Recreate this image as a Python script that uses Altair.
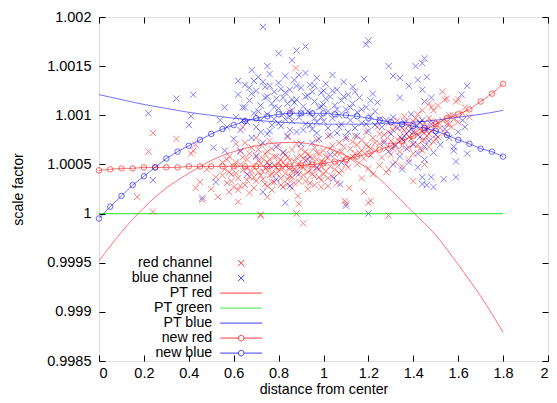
import altair as alt
import pandas as pd

FONT = "Liberation Sans"
SERIES = ["red channel", "blue channel", "PT red", "PT green", "PT blue", "new red", "new blue"]
SERIES_COLORS = ["#ff0000", "#0000ff", "#ff0000", "#00e000", "#0000ff", "#ff0000", "#0000ff"]
CROSS = "M-0.9,-0.9L0.9,0.9M-0.9,0.9L0.9,-0.9"
# legend samples: drawn to the right of the (right-aligned) legend labels
L_CROSS = "M9.4,-0.9L11.2,0.9M9.4,0.9L11.2,-0.9"
L_LINE = "M4.3,0L16.3,0"
L_LINE_CIRCLE = "M4.3,0L9.5,0M11.1,0L16.3,0M11.1,0A0.8,0.8 0 1 1 9.5,0A0.8,0.8 0 1 1 11.1,0"
LEGEND_SHAPES = [L_CROSS, L_CROSS, L_LINE, L_LINE, L_LINE, L_LINE_CIRCLE, L_LINE_CIRCLE]

X_TICKS = [0, 0.2, 0.4, 0.6, 0.8, 1.0, 1.2, 1.4, 1.6, 1.8, 2.0]
Y_TICKS = [0.9985, 0.999, 0.9995, 1.0, 1.0005, 1.001, 1.0015, 1.002]

W, H = 449, 344

# ---- red channel measurements (distance, scale factor)
red_sparse = [
    (0.24, 1.00082), (0.345, 1.00076), (0.22, 1.00063), (0.17, 1.00017), (0.24, 1.00002),
    (0.43, 1.00070), (0.42, 1.00064), (0.41, 1.00061), (0.45, 1.00032), (0.43, 1.00026),
    (0.46, 1.00014), (0.53, 1.00017), (0.55, 1.00039), (0.52, 1.00037), (0.72, 0.99998),
    (0.88, 1.00000), (0.91, 0.99990), (0.89, 1.00010), (1.10, 1.00010), (1.095, 1.00013),
    (1.20, 1.00011), (1.21, 1.00013), (1.29, 0.99998), (1.18, 1.00022), (1.115, 1.00026),
    (1.02, 1.00028), (1.40, 1.00033), (1.29, 1.00045), (1.17, 1.00036), (0.64, 1.00088),
    (0.61, 1.00071), (0.50, 1.00025), (0.48, 1.00045), (0.58, 1.00022), (0.62, 1.00012),
    (0.75, 1.00017), (0.82, 1.00027), (0.885, 1.00018), (0.72, 0.99999), (0.876, 1.00148),
    (0.85, 1.00104),
]
red_core = [
    (0.56, 1.00045), (0.57, 1.00031), (0.58, 1.00058), (0.59, 1.00040), (0.60, 1.00027),
    (0.61, 1.00052), (0.62, 1.00036), (0.63, 1.00063), (0.64, 1.00044), (0.65, 1.00029),
    (0.66, 1.00055), (0.67, 1.00038), (0.68, 1.00067), (0.69, 1.00048), (0.70, 1.00033),
    (0.70, 1.00059), (0.71, 1.00042), (0.72, 1.00070), (0.72, 1.00051), (0.73, 1.00035),
    (0.74, 1.00061), (0.74, 1.00046), (0.75, 1.00028), (0.76, 1.00055), (0.76, 1.00039),
    (0.77, 1.00066), (0.78, 1.00049), (0.78, 1.00032), (0.79, 1.00058), (0.80, 1.00043),
    (0.80, 1.00069), (0.81, 1.00036), (0.82, 1.00052), (0.82, 1.00062), (0.83, 1.00041),
    (0.84, 1.00030), (0.84, 1.00057), (0.85, 1.00047), (0.86, 1.00065), (0.86, 1.00037),
    (0.87, 1.00053), (0.88, 1.00044), (0.88, 1.00071), (0.89, 1.00033), (0.90, 1.00059),
    (0.90, 1.00048), (0.91, 1.00039), (0.92, 1.00063), (0.92, 1.00054), (0.93, 1.00042),
    (0.94, 1.00031), (0.94, 1.00058), (0.95, 1.00049), (0.96, 1.00067), (0.96, 1.00038),
    (0.97, 1.00055), (0.98, 1.00045), (0.98, 1.00061), (0.99, 1.00034), (1.00, 1.00052),
    (1.00, 1.00064), (1.01, 1.00043), (1.02, 1.00057), (1.03, 1.00048), (1.04, 1.00069),
    (1.04, 1.00038), (1.05, 1.00060), (1.06, 1.00051), (1.07, 1.00072), (1.08, 1.00044),
    (1.08, 1.00063), (1.09, 1.00055), (1.10, 1.00076), (1.11, 1.00047), (1.12, 1.00066),
    (1.13, 1.00058), (1.14, 1.00079), (1.15, 1.00050), (1.15, 1.00070),
    (0.73, 1.00043), (0.75, 1.00052), (0.77, 1.00040), (0.79, 1.00047), (0.81, 1.00055),
    (0.83, 1.00049), (0.85, 1.00038), (0.87, 1.00045), (0.89, 1.00051), (0.91, 1.00056),
    (0.93, 1.00049), (0.95, 1.00040), (0.97, 1.00046), (0.99, 1.00053), (0.71, 1.00054),
    (0.69, 1.00037), (0.66, 1.00046), (0.63, 1.00050), (0.60, 1.00048), (0.58, 1.00042),
    (0.55, 1.00052), (0.62, 1.00024), (0.67, 1.00021), (0.77, 1.00024), (0.86, 1.00026),
    (0.93, 1.00025), (0.99, 1.00027), (1.06, 1.00031), (0.65, 1.00072), (0.70, 1.00077),
    (0.76, 1.00074), (0.84, 1.00078), (0.97, 1.00075), (1.02, 1.00079),
]
red_core_2 = [
    (0.57, 1.00055), (0.59, 1.00033), (0.61, 1.00041), (0.63, 1.00028), (0.64, 1.00057),
    (0.66, 1.00034), (0.67, 1.00061), (0.68, 1.00043), (0.69, 1.00026), (0.71, 1.00065),
    (0.72, 1.00039), (0.73, 1.00056), (0.74, 1.00030), (0.75, 1.00063), (0.76, 1.00045),
    (0.77, 1.00032), (0.78, 1.00058), (0.79, 1.00041), (0.80, 1.00052), (0.81, 1.00029),
    (0.82, 1.00046), (0.83, 1.00060), (0.84, 1.00035), (0.85, 1.00054), (0.86, 1.00043),
    (0.87, 1.00031), (0.88, 1.00057), (0.89, 1.00040), (0.90, 1.00066), (0.91, 1.00047),
    (0.92, 1.00033), (0.93, 1.00060), (0.94, 1.00044), (0.95, 1.00056), (0.96, 1.00029),
    (0.97, 1.00062), (0.98, 1.00037), (0.99, 1.00048), (1.00, 1.00040), (1.01, 1.00058),
    (1.02, 1.00036), (1.03, 1.00066), (1.05, 1.00045), (1.06, 1.00062), (1.07, 1.00041),
    (1.09, 1.00068), (1.10, 1.00050), (1.12, 1.00056), (1.13, 1.00073), (1.14, 1.00061),
]
red_right = [
    (1.16, 1.00062), (1.17, 1.00075), (1.18, 1.00056), (1.19, 1.00083), (1.20, 1.00068),
    (1.21, 1.00059), (1.22, 1.00077), (1.23, 1.00064), (1.24, 1.00088), (1.25, 1.00071),
    (1.26, 1.00057), (1.27, 1.00080), (1.28, 1.00066), (1.29, 1.00092), (1.30, 1.00074),
    (1.30, 1.00060), (1.31, 1.00085), (1.32, 1.00070), (1.33, 1.00095), (1.34, 1.00078),
    (1.34, 1.00063), (1.35, 1.00087), (1.36, 1.00073), (1.36, 1.00099), (1.37, 1.00081),
    (1.38, 1.00067), (1.38, 1.00090), (1.39, 1.00076), (1.40, 1.00061), (1.40, 1.00094),
    (1.41, 1.00083), (1.42, 1.00070), (1.42, 1.00101), (1.43, 1.00086), (1.44, 1.00074),
    (1.44, 1.00064), (1.45, 1.00092), (1.46, 1.00079), (1.47, 1.00068), (1.47, 1.00097),
    (1.48, 1.00084), (1.49, 1.00073), (1.50, 1.00090), (1.51, 1.00078), (1.52, 1.00087),
    (1.53, 1.00095), (1.54, 1.00082), (1.55, 1.00091), (1.56, 1.00100), (1.57, 1.00088),
    (1.58, 1.00096), (1.60, 1.00093), (1.62, 1.00102), (1.65, 1.00098),
    (1.53, 1.00124), (1.55, 1.00117), (1.51, 1.00110), (1.60, 1.00116), (1.59, 1.00114),
    (1.63, 1.00108), (1.56, 1.00091), (1.54, 1.00116), (1.47, 1.00112), (1.49, 1.00105),
    (1.44, 1.00105), (1.575, 1.00100), (1.48, 1.00108),
    (1.20, 1.00046), (1.25, 1.00049), (1.32, 1.00052), (1.38, 1.00055), (1.45, 1.00050),
    (1.22, 1.00040), (1.28, 1.00042), (1.35, 1.00048),
]
red_right_2 = [
    (1.27, 1.00074), (1.29, 1.00083), (1.31, 1.00066), (1.32, 1.00088), (1.33, 1.00075),
    (1.35, 1.00069), (1.36, 1.00085), (1.37, 1.00094), (1.38, 1.00078), (1.39, 1.00086),
    (1.40, 1.00070), (1.41, 1.00097), (1.42, 1.00080), (1.43, 1.00066), (1.43, 1.00093),
    (1.44, 1.00083), (1.45, 1.00075), (1.46, 1.00088), (1.47, 1.00081), (1.48, 1.00094),
    (1.49, 1.00086), (1.50, 1.00076), (1.51, 1.00093), (1.23, 1.00072), (1.25, 1.00081),
    (1.21, 1.00066), (1.19, 1.00070), (1.17, 1.00064),
]

# ---- blue channel measurements
blue_sparse = [
    (0.22, 1.00102), (0.345, 1.00117), (0.42, 1.00121), (0.41, 1.00099), (0.40, 1.00090),
    (0.24, 1.00034), (0.52, 1.00032), (0.56, 1.00064), (0.56, 1.00108), (0.46, 1.00016),
    (0.51, 1.00067), (0.57, 1.00088), (0.54, 1.00095),
    (0.73, 1.00190), (0.80, 1.00163), (0.88, 1.00166), (0.92, 1.00170), (0.86, 1.00156),
    (0.68, 1.00146), (0.75, 1.00150), (0.69, 1.00135), (1.19, 1.00172), (1.20, 1.00176),
    (1.29, 1.00150), (1.31, 1.00140), (1.34, 1.00138), (1.41, 1.00150), (1.44, 1.00153),
    (1.45, 1.00158), (1.42, 1.00136), (1.46, 1.00139), (1.34, 1.00118), (1.38, 1.00130),
    (1.44, 1.00126), (1.48, 1.00118), (1.45, 1.00114), (1.64, 1.00130), (1.615, 1.00121),
]
blue_core = [
    (0.61, 1.00098), (0.62, 1.00121), (0.63, 1.00085), (0.64, 1.00108), (0.65, 1.00131),
    (0.66, 1.00093), (0.67, 1.00115), (0.68, 1.00077), (0.69, 1.00102), (0.70, 1.00125),
    (0.70, 1.00088), (0.71, 1.00139), (0.72, 1.00110), (0.72, 1.00095), (0.73, 1.00072),
    (0.74, 1.00118), (0.74, 1.00129), (0.75, 1.00101), (0.76, 1.00084), (0.76, 1.00142),
    (0.77, 1.00112), (0.78, 1.00096), (0.78, 1.00124), (0.79, 1.00068), (0.80, 1.00107),
    (0.80, 1.00133), (0.81, 1.00089), (0.82, 1.00118), (0.82, 1.00101), (0.83, 1.00140),
    (0.84, 1.00079), (0.84, 1.00112), (0.85, 1.00126), (0.86, 1.00094), (0.86, 1.00105),
    (0.87, 1.00136), (0.88, 1.00083), (0.88, 1.00116), (0.89, 1.00098), (0.90, 1.00128),
    (0.90, 1.00071), (0.91, 1.00109), (0.92, 1.00143), (0.92, 1.00091), (0.93, 1.00120),
    (0.94, 1.00102), (0.94, 1.00131), (0.95, 1.00086), (0.96, 1.00114), (0.96, 1.00097),
    (0.97, 1.00138), (0.98, 1.00108), (0.98, 1.00076), (0.99, 1.00123), (1.00, 1.00094),
    (1.00, 1.00111), (1.01, 1.00132), (1.02, 1.00087), (1.02, 1.00104), (1.03, 1.00119),
    (1.04, 1.00097), (1.04, 1.00141), (1.05, 1.00110), (1.06, 1.00082), (1.06, 1.00126),
    (1.07, 1.00100), (1.08, 1.00115), (1.08, 1.00091), (1.09, 1.00134), (1.10, 1.00106),
    (1.10, 1.00078), (1.11, 1.00121), (1.12, 1.00095), (1.13, 1.00112), (1.13, 1.00129),
    (1.14, 1.00087), (1.15, 1.00103), (1.16, 1.00118), (1.17, 1.00092), (1.18, 1.00137),
    (1.19, 1.00108), (1.20, 1.00084), (1.21, 1.00099), (1.22, 1.00122), (1.23, 1.00090),
    (1.24, 1.00113), (1.25, 1.00096),
    (0.73, 1.00134), (0.77, 1.00090), (0.81, 1.00127), (0.85, 1.00099), (0.87, 1.00113),
    (0.89, 1.00141), (0.91, 1.00085), (0.93, 1.00104), (0.95, 1.00124), (0.97, 1.00093),
    (0.99, 1.00109), (0.79, 1.00117), (0.83, 1.00096), (0.75, 1.00081), (0.95, 1.00072),
    (0.65, 1.00108), (0.68, 1.00122), (0.62, 1.00135), (0.60, 1.00076),
    (1.03, 1.00080), (1.07, 1.00088), (1.11, 1.00083), (1.15, 1.00079), (1.19, 1.00091),
    (0.63, 1.00064), (0.70, 1.00058), (0.76, 1.00049), (0.82, 1.00062), (0.88, 1.00041),
    (0.93, 1.00055), (0.79, 1.00035), (0.85, 1.00028), (0.97, 1.00047), (1.03, 1.00060),
    (1.08, 1.00052), (0.73, 1.00022), (0.83, 1.00011), (1.10, 1.00008), (1.20, 1.00000),
    (1.075, 1.00030), (1.045, 1.00036), (0.66, 1.00040),
]
blue_core_2 = [
    (0.64, 1.00095), (0.67, 1.00128), (0.71, 1.00104), (0.75, 1.00119), (0.78, 1.00108),
    (0.80, 1.00092), (0.83, 1.00123), (0.86, 1.00116), (0.88, 1.00130), (0.90, 1.00102),
    (0.92, 1.00119), (0.94, 1.00090), (0.96, 1.00130), (0.99, 1.00098), (1.01, 1.00117),
    (1.04, 1.00125), (1.06, 1.00106), (1.09, 1.00119), (1.12, 1.00108), (1.14, 1.00124),
    (1.17, 1.00106), (1.21, 1.00115), (1.23, 1.00104), (0.72, 1.00083), (0.85, 1.00085),
    (0.97, 1.00082), (1.00, 1.00125), (0.76, 1.00130),
]
blue_right = [
    (1.26, 1.00088), (1.27, 1.00072), (1.28, 1.00095), (1.29, 1.00063), (1.30, 1.00081),
    (1.31, 1.00098), (1.32, 1.00069), (1.33, 1.00087), (1.34, 1.00058), (1.35, 1.00076),
    (1.36, 1.00093), (1.37, 1.00066), (1.38, 1.00084), (1.39, 1.00101), (1.40, 1.00071),
    (1.41, 1.00089), (1.42, 1.00061), (1.43, 1.00078), (1.44, 1.00095), (1.45, 1.00068),
    (1.46, 1.00085), (1.47, 1.00074), (1.48, 1.00091), (1.49, 1.00062), (1.50, 1.00080),
    (1.52, 1.00070), (1.54, 1.00086), (1.56, 1.00077), (1.58, 1.00068), (1.60, 1.00083),
    (1.38, 1.00052), (1.42, 1.00047), (1.35, 1.00045), (1.45, 1.00055), (1.31, 1.00050),
    (1.40, 1.00083), (1.43, 1.00092), (1.36, 1.00079),
    (1.58, 1.00064), (1.64, 1.00061), (1.59, 1.00053), (1.535, 1.00035), (1.59, 1.00037),
    (1.44, 1.00037), (1.48, 1.00037), (1.44, 1.00030), (1.49, 1.00027), (1.46, 1.00029),
    (1.62, 1.00095), (1.63, 1.00088),
]

# ---- fitted curves
pt_x = [0.0, 0.1, 0.2, 0.3, 0.4, 0.5, 0.6, 0.7, 0.8, 0.9, 1.0, 1.1, 1.2, 1.3, 1.4, 1.5, 1.6, 1.7, 1.8]
pt_red = [0.99952, 0.99981, 1.00006, 1.00026, 1.00041, 1.00054, 1.00063, 1.00069, 1.00072, 1.00072,
          1.00068, 1.00059, 1.00045, 1.00024, 1.00001, 0.99978, 0.99948, 0.99916, 0.99879]
pt_blue = [1.00121, 1.00116, 1.00111, 1.00107, 1.00103, 1.00100, 1.00097, 1.00095, 1.00093, 1.00092,
           1.00091, 1.00091, 1.00091, 1.00092, 1.00093, 1.00095, 1.00098, 1.00101, 1.00105]
pt_green_x = [0.0, 1.8]
pt_green = [1.0, 1.0]

new_x = [0.0, 0.05, 0.1, 0.15, 0.2, 0.25, 0.3, 0.35, 0.4, 0.45, 0.5, 0.55, 0.6, 0.65, 0.7, 0.75,
         0.8, 0.85, 0.9, 0.95, 1.0, 1.05, 1.1, 1.15, 1.2, 1.25, 1.3, 1.35, 1.4, 1.45, 1.5, 1.55,
         1.6, 1.65, 1.7, 1.75, 1.8]
new_red = [1.00044, 1.00045, 1.00046, 1.00046, 1.00047, 1.00047, 1.00047, 1.00047, 1.00048, 1.00048,
           1.00048, 1.00048, 1.00048, 1.00048, 1.00048, 1.00048, 1.00048, 1.00048, 1.00049, 1.00050,
           1.00051, 1.00053, 1.00055, 1.00058, 1.00061, 1.00065, 1.00069, 1.00074, 1.00079, 1.00085,
           1.00091, 1.00097, 1.00101, 1.00106, 1.00114, 1.00122, 1.00132]
new_blue = [0.99995, 1.00007, 1.00018, 1.00029, 1.00038, 1.00047, 1.00056, 1.00063, 1.00069, 1.00075,
            1.00081, 1.00086, 1.00090, 1.00094, 1.00097, 1.00099, 1.00101, 1.00102, 1.00102, 1.00102,
            1.00102, 1.00101, 1.00100, 1.00099, 1.00097, 1.00095, 1.00093, 1.00091, 1.00089, 1.00087,
            1.00084, 1.00080, 1.00075, 1.00071, 1.00066, 1.00063, 1.00058]

def pts(groups):
    rows = []
    for grp in groups:
        rows += [{"d": x, "s": y} for x, y in grp]
    return pd.DataFrame(rows)

red_df = pts([red_sparse, red_core, red_core_2, red_right, red_right_2])
blue_df = pts([blue_sparse, blue_core, blue_core_2, blue_right])

xscale = alt.Scale(domain=[0, 2], nice=False, zero=False)
yscale = alt.Scale(domain=[0.9985, 1.002], nice=False, zero=False)

xaxis = alt.Axis(values=X_TICKS, format="~g", ticks=False, domain=False, grid=True,
                 gridDash=[6, H - 12, 6], gridColor="#000", gridOpacity=1, gridWidth=1,
                 labelFont=FONT, labelFontSize=14.5, labelColor="#000", labelPadding=5,
                 title="distance from center", titleFont=FONT, titleFontSize=14.2,
                 titleFontWeight="normal", titleColor="#000", titleY=32,
                 titleBaseline="alphabetic")
yaxis = alt.Axis(values=Y_TICKS, format="~g", ticks=False, domain=False, grid=True,
                 gridDash=[6, W - 12, 6], gridColor="#000", gridOpacity=1, gridWidth=1,
                 labelFont=FONT, labelFontSize=14.5, labelColor="#000", labelPadding=8,
                 title="scale factor", titleFont=FONT, titleFontSize=14.2,
                 titleFontWeight="normal", titleColor="#000", titleX=-77, titleY=H / 2,
                 titleAngle=270, titleAlign="center", titleBaseline="alphabetic")

X = alt.X("d:Q", scale=xscale, axis=xaxis)
Y = alt.Y("s:Q", scale=yscale, axis=yaxis)

legend = alt.Legend(orient="none", legendX=99, legendY=239, title=None,
                    labelAlign="right", labelOffset=0, symbolOffset=0,
                    labelFont=FONT, labelFontSize=14.2,
                    labelColor="#000", labelLimit=300, symbolSize=49, symbolStrokeWidth=1,
                    symbolOpacity=0.75, rowPadding=0)

def scatter(df, color):
    return alt.Chart(df).mark_point(filled=False, size=49, strokeWidth=1, opacity=0.5).encode(
        x=X, y=Y, stroke=alt.value(color), shape=alt.value(CROSS))

legend_df = pd.DataFrame({"series": SERIES})
legend_layer = alt.Chart(legend_df).mark_point(filled=False, clip=True).encode(
    x=alt.value(-60), y=alt.value(-60),
    color=alt.Color("series:N", scale=alt.Scale(domain=SERIES, range=SERIES_COLORS), legend=legend),
    shape=alt.Shape("series:N", scale=alt.Scale(domain=SERIES, range=LEGEND_SHAPES), legend=legend),
)

def curve(xs, ys, color, opacity, interp, width=1):
    df = pd.DataFrame({"d": xs, "s": ys})
    return alt.Chart(df).mark_line(strokeWidth=width, opacity=opacity, interpolate=interp, clip=True).encode(
        x=alt.X("d:Q", scale=xscale), y=alt.Y("s:Q", scale=yscale), stroke=alt.value(color))

def circles(xs, ys, color):
    df = pd.DataFrame({"d": xs, "s": ys})
    return alt.Chart(df).mark_point(shape="circle", filled=False, size=30, strokeWidth=1, opacity=0.6).encode(
        x=alt.X("d:Q", scale=xscale), y=alt.Y("s:Q", scale=yscale), stroke=alt.value(color))

layers = [
    scatter(red_df, "#ff0000"),
    scatter(blue_df, "#0000ff"),
    curve(pt_x, pt_red, "#ff0000", 0.55, "natural"),
    curve(pt_green_x, pt_green, "#00e000", 0.7, "linear", 1.3),
    curve(pt_x, pt_blue, "#0000ff", 0.55, "natural"),
    curve(new_x, new_red, "#ff0000", 0.55, "linear"),
    circles(new_x, new_red, "#ff0000"),
    curve(new_x, new_blue, "#0000ff", 0.55, "linear"),
    circles(new_x, new_blue, "#0000ff"),
    legend_layer,
]

chart = alt.layer(*layers).properties(
    width=W, height=H,
    autosize=alt.AutoSizeParams(type="none"),
    padding={"left": 91, "top": 9, "right": 1, "bottom": 34},
).configure_view(stroke="#000", strokeWidth=1).configure(background="white")

chart.save("out.html", embed_options={"renderer": "svg", "actions": False})
